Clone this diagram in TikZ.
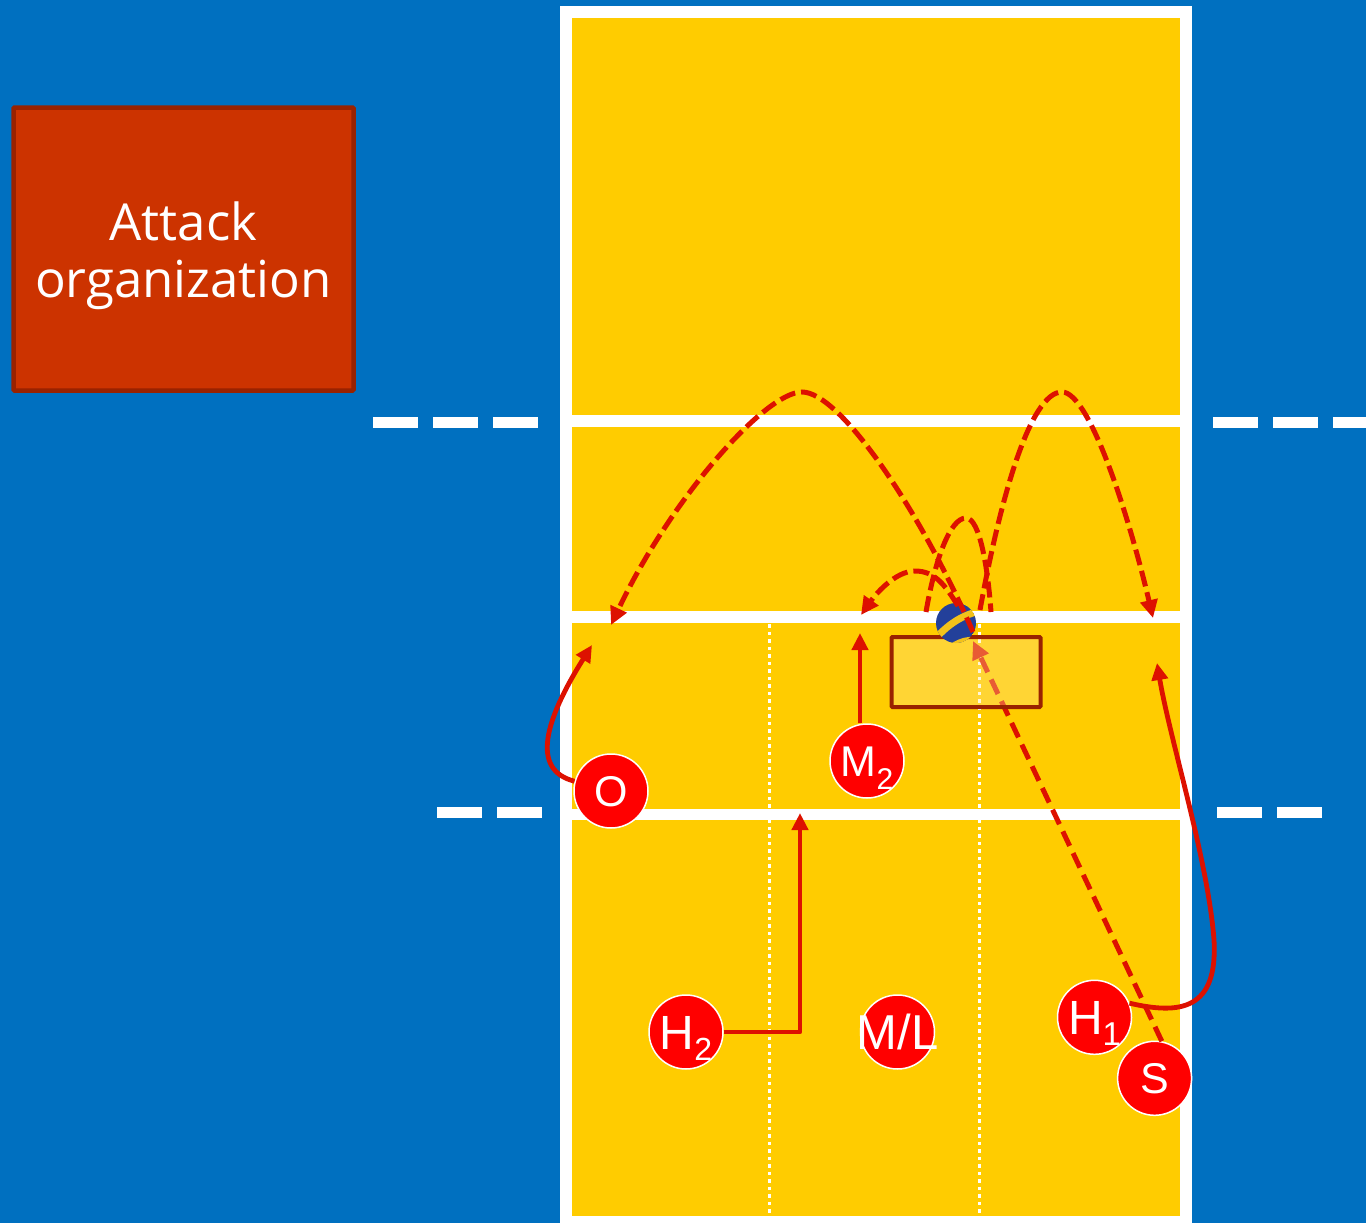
\documentclass[tikz,border=0pt]{standalone}
\usepackage{fontspec}
\setmainfont{Liberation Sans}
\newfontfamily\orgfont{Open Sans}
\usetikzlibrary{arrows.meta}
\definecolor{bg}{HTML}{0070C0}
\definecolor{court}{HTML}{FFCC00}
\definecolor{orgfill}{HTML}{CC3300}
\definecolor{orgline}{HTML}{992200}
\definecolor{pathred}{HTML}{DD1100}
\definecolor{playerred}{HTML}{FF0000}
\definecolor{zonefill}{HTML}{FFE896}
\definecolor{ballblue}{HTML}{23409A}
\definecolor{ballyellow}{HTML}{F2C21A}
\newcommand{\plsub}[3]{\smash{\raisebox{-#2pt}{\fontsize{#1}{#1}\selectfont #3}}}
\begin{document}
\begin{tikzpicture}[x=1pt,y=-1pt,
  player/.style={circle, fill=playerred, draw=white, line width=1.5pt, minimum size=74pt, inner sep=0pt},
  plabel/.style={text=white, inner sep=0pt, font=\fontsize{43}{43}\selectfont, text height=31pt, text depth=0pt},
  plabelbig/.style={plabel, font=\fontsize{48}{48}\selectfont, text height=34.4pt},
  arrowsolid/.style={draw=pathred, line width=4.8pt, line join=round, -{Triangle[length=17pt,width=16pt]}},
  arcdash/.style={draw=pathred, line width=5pt, dash pattern=on 16pt off 6pt, -{Triangle[length=18pt,width=17pt]}},
  arcplain/.style={draw=pathred, line width=5pt, dash pattern=on 16pt off 6pt},
  passdash/.style={draw=pathred, line width=5pt, dash pattern=on 16pt off 8pt, -{Triangle[length=18pt,width=17pt]}},
  sidedash/.style={fill=white},
  dotline/.style={draw=white, line width=3pt, dash pattern=on 3.5pt off 4pt}
]
\useasboundingbox (0,0) rectangle (1366,1223);
\fill[bg] (0,0) rectangle (1366,1223);
% court
\fill[white] (560,6) rectangle (1192,1223);
\fill[court] (572,18) rectangle (1180,415);
\fill[court] (572,427) rectangle (1180,611);
\fill[court] (572,623) rectangle (1180,809);
\fill[court] (572,820) rectangle (1180,1216);
\draw[dotline] (769.5,624) -- (769.5,1216);
\draw[dotline] (979.5,624) -- (979.5,1216);
% side dashes
\fill[sidedash] (373,417) rectangle (418,428);
\fill[sidedash] (433,417) rectangle (478,428);
\fill[sidedash] (493,417) rectangle (538,428);
\fill[sidedash] (1213,417) rectangle (1258,428);
\fill[sidedash] (1273,417) rectangle (1318,428);
\fill[sidedash] (1333,417) rectangle (1378,428);
\fill[sidedash] (437,807) rectangle (482,818);
\fill[sidedash] (497,807) rectangle (542,818);
\fill[sidedash] (1217,807) rectangle (1262,818);
\fill[sidedash] (1277,807) rectangle (1322,818);
% title box
\node[draw=orgline, fill=orgfill, line width=4.5pt, minimum width=340pt, minimum height=283pt, inner sep=0pt, rounded corners=1pt] (orgbox) at (183.5,249) {};
\node[text=white, font=\orgfont\fontsize{51}{57.3}\selectfont, align=center, anchor=base, inner sep=0pt] (orglabel) at (183.5,297.3) {Attack\\organization};
% players
\node[player] (o) at (611,791) {};
\node[player] (m2) at (867,761) {};
\node[player] (h2) at (686,1032) {};
\node[player] (ml) at (897.5,1032) {};
\node[player] (h1) at (1094.5,1017.3) {};
\node[plabel] (olabel) at (o.center) {O};
\node[plabel] (m2label) at (m2.center) {M\plsub{30}{13.4}{2}};
\node[plabelbig] (h2label) at (h2.center) {H\plsub{32}{11.6}{2}};
\node[plabelbig, font=\fontsize{49}{49}\selectfont, text height=35.5pt] (mllabel) at (ml.center) {M/L};
\node[plabelbig] (h1label) at (h1.center) {H\plsub{33}{11}{1}};
% runs
\coordinate (otip) at (592,645);
\coordinate (m2tip) at (860,633);
\coordinate (h2tip) at (800,813);
\coordinate (h1tip) at (1157,663);
\draw[arrowsolid] (o.165) .. controls (530,770) and (545,720) .. (otip);
\draw[arrowsolid] (m2tip |- m2.north) -- (m2tip);
\draw[arrowsolid] (h2.east) -| (h2tip);
\draw[arrowsolid] (h1.22) .. controls (1180,1015) and (1218,1010) .. (1214,940) .. controls (1208,860) and (1170,740) .. (h1tip);
% setter
\node[player] (s) at (1154.6,1078.3) {};
\coordinate (stip) at (973,641);
\draw[passdash] (s.79) -- (stip);
\node[plabel] (slabel) at (s.center) {S};
% setting zone
\node[draw=orgline, fill=zonefill, fill opacity=0.35, line width=4pt, minimum width=149pt, minimum height=70pt, inner sep=0pt, rounded corners=1pt] (zone) at (966,672) {};
% ball
\node[circle, minimum size=40pt, inner sep=0pt] (ball) at (956,623) {};
\begin{scope}
\clip (ball.center) circle[radius=20pt];
\fill[ballblue] (ball.center) circle[radius=20pt];
\draw[ballyellow, line width=7pt] (934,640) .. controls (945,628) and (958,616) .. (980,611);
\fill[ballyellow] (958,600) .. controls (970,603) and (977,611) .. (979,624) -- (990,600) -- cycle;
\draw[ballyellow, line width=4pt] (945,650) .. controls (958,640) and (970,636) .. (982,641);
\end{scope}
% ball trajectories
\coordinate (astart) at (973,632);
\coordinate (aend) at (611,625);
\coordinate (bstart) at (958,606);
\coordinate (bend) at (861,615);
\coordinate (cstart) at (926,612);
\coordinate (cend) at (991,612);
\coordinate (dstart) at (980,610);
\coordinate (dend) at (1153,618);
\draw[arcdash] (astart) .. controls (920,510) and (840,392) .. (802,392) .. controls (765,392) and (670,500) .. (aend);
\draw[arcdash] (bstart) .. controls (945,585) and (935,571) .. (915,571) .. controls (895,571) and (875,595) .. (bend);
\draw[arcplain] (cstart) .. controls (935,560) and (950,518) .. (966,518) .. controls (980,518) and (988,570) .. (cend);
\draw[arcdash] (dstart) .. controls (1000,500) and (1030,392) .. (1062,392) .. controls (1090,392) and (1130,520) .. (dend);
\end{tikzpicture}
\end{document}
